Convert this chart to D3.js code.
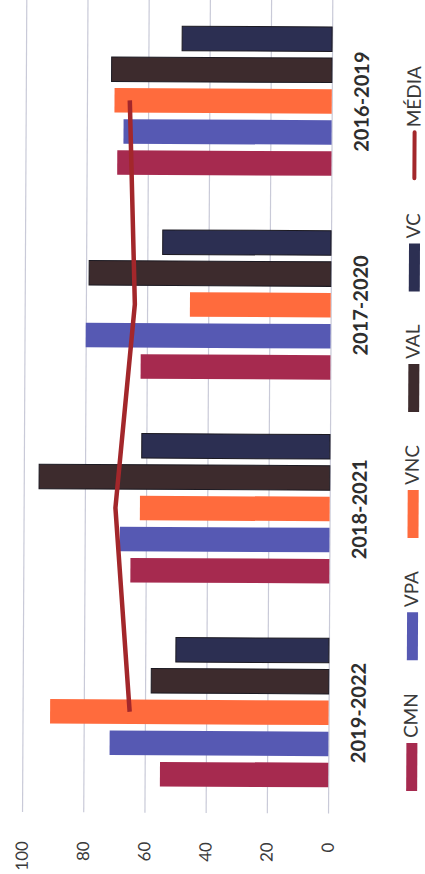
<!DOCTYPE html>
<meta charset='utf-8'>
<style>
html, body {
  margin: 0;
  padding: 0;
  background: #fff;
}
svg {
  display: block;
  font-family: Lato, 'Open Sans', sans-serif;
}
.grid line {
  stroke: #c9cad8;
  stroke-width: 1.2;
}
.grid text {
  font-size: 17px;
  fill: #3a3a3a;
}
.cat {
  font-size: 20px;
  font-weight: bold;
  fill: #2e2e2e;
}
.leg text {
  font-size: 19px;
  fill: #3a3a3a;
}
</style>
<body>
<div id='chart'></div>
<script src='https://cdn.jsdelivr.net/npm/d3@7/dist/d3.min.js'></script>
<script>

// categories, first one is drawn at the bottom (chart is turned on its side)
var periods = ['2019-2022', '2018-2021', '2017-2020', '2016-2019'];
var series = ['CMN', 'VPA', 'VNC', 'VAL', 'VC'];
var CMN = [55, 65, 62, 70];
var VPA = [71.5, 68.5, 80, 68];
var VNC = [91, 62, 46, 71];
var VAL = [58, 95, 79, 72];
var VC  = [50, 61.5, 55, 49];
var MEDIA = [65, 70, 64, 66];
var ticks = [0, 20, 40, 60, 80, 100];

var colors = {
  CMN: '#a62a4f',
  VPA: '#5659b3',
  VNC: '#ff6b3d',
  VAL: '#3d2b2d',
  VC:  '#2c2f52',
  'MÉDIA': '#a3272b'
};
var values = {CMN: CMN, VPA: VPA, VNC: VNC, VAL: VAL, VC: VC};

var W = 425, H = 874;

var svg = d3.select('#chart').append('svg')
    .attr('width', W)
    .attr('height', H);

// whole picture is a scan, a hair off square
var tilt = svg.append('g').attr('transform', 'rotate(0.3 212 437)');
// inner frame: normal column chart, 874 wide and 425 tall, turned -90deg
var g = tilt.append('g').attr('transform', 'translate(0,' + H + ') rotate(-90)');

var x0 = d3.scaleBand()
    .domain(periods)
    .range([60, 875])
    .paddingInner(0.237)
    .paddingOuter(0.118);

var x1 = d3.scaleBand()
    .domain(series)
    .range([0, x0.bandwidth()])
    .paddingInner(0.212)
    .paddingOuter(0.106);

var y = d3.scaleLinear()
    .domain([0, 100])
    .range([330, 24]);

// gridlines + value labels
var axis = d3.axisLeft(y)
    .tickValues(ticks)
    .tickSize(-820)
    .tickPadding(29);

var ga = g.append('g')
    .attr('class', 'grid')
    .attr('transform', 'translate(61,0)')
    .call(axis);
ga.select('.domain').remove();
ga.attr('font-family', null).attr('font-size', null);

// bars
var groups = g.selectAll('.period')
  .data(periods)
  .enter().append('g')
    .attr('class', 'period')
    .attr('transform', function(d) { return 'translate(' + x0(d) + ',0)'; });

groups.selectAll('rect')
  .data(function(d, i) {
    return series.map(function(s) { return {s: s, v: values[s][i]}; });
  })
  .enter().append('rect')
    .attr('x', function(d) { return x1(d.s); })
    .attr('y', function(d) { return y(d.v); })
    .attr('width', x1.bandwidth())
    .attr('height', function(d) { return y(0) - y(d.v); })
    .attr('fill', function(d) { return colors[d.s]; })
    .attr('stroke', function(d) { return d.s == 'VAL' || d.s == 'VC' ? '#1c1a22' : 'none'; })
    .attr('stroke-width', 1);

// category labels
g.selectAll('.cat')
  .data(periods)
  .enter().append('text')
    .attr('class', 'cat')
    .attr('x', function(d) { return x0(d) + x0.bandwidth() / 2; })
    .attr('y', 367)
    .attr('text-anchor', 'middle')
    .text(function(d) { return d; });

// média line
var line = d3.line()
    .x(function(d, i) { return x0(periods[i]) + x0.bandwidth() / 2; })
    .y(function(d) { return y(d); });

g.append('path')
    .datum(MEDIA)
    .attr('d', line)
    .attr('fill', 'none')
    .attr('stroke', colors['MÉDIA'])
    .attr('stroke-width', 4.5)
    .attr('stroke-linejoin', 'round');

// legend, laid out one after the other
var leg = g.append('g').attr('class', 'leg');
var lx = 84;
series.concat(['MÉDIA']).forEach(function(s) {
  if (s == 'MÉDIA') {
    leg.append('line')
      .attr('x1', lx + 2).attr('x2', lx + 48)
      .attr('y1', 413).attr('y2', 413)
      .attr('stroke', colors[s])
      .attr('stroke-width', 4)
      .attr('stroke-linecap', 'round');
  } else {
    leg.append('rect')
      .attr('x', lx).attr('y', 408)
      .attr('width', 48).attr('height', 11)
      .attr('fill', colors[s]);
  }
  var t = leg.append('text')
    .attr('x', lx + 53)
    .attr('y', 419)
    .text(s);
  lx += 53 + t.node().getComputedTextLength() + 33;
});

</script>
</body>
